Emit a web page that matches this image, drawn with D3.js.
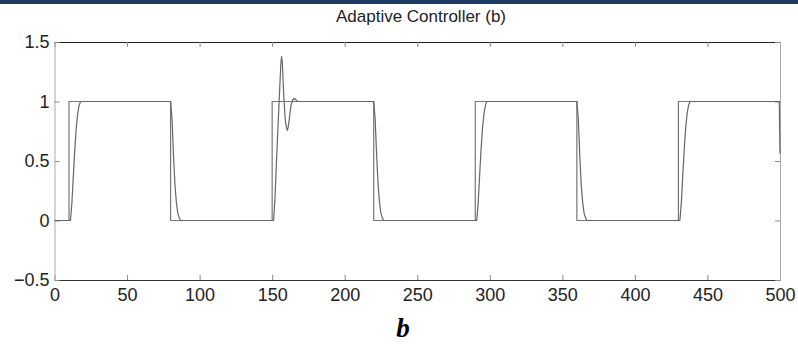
<!DOCTYPE html>
<html>
<head>
<meta charset="utf-8">
<script src="https://cdn.jsdelivr.net/npm/d3@7"></script>
<style>
  body { margin: 0; background: #fff; }
  svg { display: block; }
</style>
</head>
<body>
<svg id="chart"></svg>
<script>
// reference square wave (setpoint)
const refT = [0, 10, 10, 80, 80, 150, 150, 220, 220, 290, 290, 360, 360, 430, 430, 500];
const refY = [0, 0, 1, 1, 0, 0, 1, 1, 0, 0, 1, 1, 0, 0, 1, 1];

// plant output under the adaptive controller
const outT = [0, 11, 12, 13, 14, 15, 16, 17, 18,
  80, 81, 82, 83, 84, 85, 86, 87,
  151, 152, 153, 154, 155, 156, 156.5, 157, 158, 159, 160, 160.5, 161, 162, 163, 164, 165, 166, 167, 168,
  220, 221, 222, 223, 224, 225, 226, 227,
  291, 292, 293, 294, 295, 296, 297, 298,
  360, 361, 362, 363, 364, 365, 366, 367,
  431, 432, 433, 434, 435, 436, 437, 438,
  499.5, 500];
const outY = [0, 0, 0.15, 0.38, 0.6, 0.78, 0.9, 0.97, 1,
  1, 0.85, 0.55, 0.3, 0.15, 0.06, 0.02, 0,
  0, 0.2, 0.5, 0.78, 1.05, 1.32, 1.38, 1.33, 1.05, 0.85, 0.77, 0.76, 0.78, 0.87, 0.97, 1.01, 1.025, 1.02, 1.005, 1,
  1, 0.85, 0.55, 0.3, 0.15, 0.06, 0.02, 0,
  0, 0.15, 0.38, 0.6, 0.78, 0.9, 0.97, 1,
  1, 0.85, 0.55, 0.3, 0.15, 0.06, 0.02, 0,
  0, 0.15, 0.38, 0.6, 0.78, 0.9, 0.97, 1,
  1, 0.56];

const xTicks = [0, 50, 100, 150, 200, 250, 300, 350, 400, 450, 500];
const yTicks = [-0.5, 0, 0.5, 1, 1.5];
const yTickLabels = ["\u22120.5", "0", "0.5", "1", "1.5"];

const W = 798, H = 345;
const mLeft = 54.5, mRight = 780, mTop = 42, mBottom = 280;

const svg = d3.select('#chart')
  .attr('width', W)
  .attr('height', H);

// dark band at the top of the slide
svg.append('rect')
  .attr('x', 0).attr('y', 0)
  .attr('width', W).attr('height', 4)
  .attr('fill', '#1f3864');

const xScale = d3.scaleLinear().domain([0, 500]).range([mLeft, mRight]);
const yScale = d3.scaleLinear().domain([-0.5, 1.5]).range([mBottom, mTop]);

const font = '"Liberation Sans", Arial, sans-serif';

// ticks inside the frame on all four sides
const xAxisBottom = d3.axisBottom(xScale).tickValues(xTicks).tickSizeInner(-5).tickSizeOuter(0).tickPadding(8);
const xAxisTop = d3.axisTop(xScale).tickValues(xTicks).tickSizeInner(-5).tickSizeOuter(0).tickFormat('');
const yAxisLeft = d3.axisLeft(yScale).tickValues(yTicks).tickSizeInner(-5).tickSizeOuter(0).tickPadding(5)
  .tickFormat((d, i) => yTickLabels[i]);
const yAxisRight = d3.axisRight(yScale).tickValues(yTicks).tickSizeInner(-5).tickSizeOuter(0).tickFormat('');

const gxb = svg.append('g').attr('transform', `translate(0,${mBottom})`).call(xAxisBottom);
const gxt = svg.append('g').attr('transform', `translate(0,${mTop})`).call(xAxisTop);
const gyl = svg.append('g').attr('transform', `translate(${mLeft},0)`).call(yAxisLeft);
const gyr = svg.append('g').attr('transform', `translate(${mRight},0)`).call(yAxisRight);

[gxb, gxt, gyl, gyr].forEach(g => {
  g.selectAll('.tick line').attr('stroke', '#888');
  g.selectAll('text')
    .attr('font-family', font)
    .attr('font-size', 18)
    .attr('fill', '#222');
});
gxb.select('.domain').attr('stroke', '#333');
gxt.select('.domain').attr('stroke', '#222');
gyl.select('.domain').attr('stroke', '#aaa');
gyr.select('.domain').attr('stroke', '#aaa');

const line = d3.line()
  .x(d => xScale(d[0]))
  .y(d => yScale(d[1]));

svg.append('path')
  .datum(refT.map((t, i) => [t, refY[i]]))
  .attr('d', line)
  .attr('fill', 'none')
  .attr('stroke', '#777')
  .attr('stroke-width', 1.2);

svg.append('path')
  .datum(outT.map((t, i) => [t, outY[i]]))
  .attr('d', line)
  .attr('fill', 'none')
  .attr('stroke', '#666')
  .attr('stroke-width', 1.2);

// title
svg.append('text')
  .attr('x', 421).attr('y', 22)
  .attr('text-anchor', 'middle')
  .attr('font-family', font)
  .attr('font-size', 17)
  .attr('fill', '#222')
  .text('Adaptive Controller (b)');

// panel letter
svg.append('text')
  .attr('x', 403).attr('y', 337)
  .attr('text-anchor', 'middle')
  .attr('font-family', '"Liberation Serif", "Times New Roman", serif')
  .attr('font-weight', 'bold')
  .attr('font-style', 'italic')
  .attr('font-size', 27)
  .attr('fill', '#000')
  .text('b');
</script>
</body>
</html>
